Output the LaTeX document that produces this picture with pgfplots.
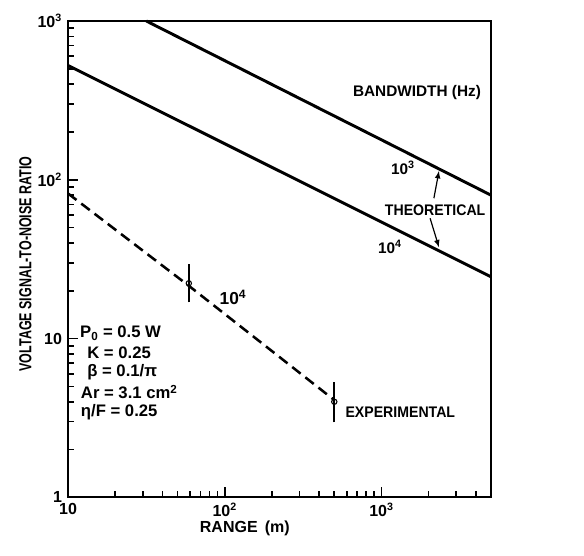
\documentclass[border=0pt]{standalone}
\usepackage{fontspec}
\setmainfont{Liberation Sans}
\usepackage{pgfplots}
\pgfplotsset{compat=1.18}
\begin{document}
\begin{tikzpicture}
\begin{axis}[
  scale only axis,
  width=317pt, height=357pt,
  xmode=log, ymode=log,
  xmin=10, xmax=5000, ymin=1, ymax=1000,
  xtick={10,100,1000}, xticklabels={10,10\textsuperscript{2},10\textsuperscript{3}},
  ytick={1,10,100,1000}, yticklabels={1,10,10\textsuperscript{2},10\textsuperscript{3}},
  minor xtick={}, minor ytick={},
  xtick pos=bottom, ytick pos=left,
  major tick length=0pt, minor tick length=0pt,
  axis line style={line width=1.4pt},
  ticklabel style={font=\bfseries\fontsize{12}{14}\selectfont},
  xticklabel style={yshift=-1pt},
  yticklabel style={xshift=-1pt},
  xlabel={RANGE\,  (m)},
  ylabel={\scalebox{0.72}[1]{\bfseries\fontsize{13}{14}\selectfont VOLTAGE SIGNAL-TO-NOISE RATIO}},
  x label style={font=\bfseries\fontsize{12}{14}\selectfont, at={(axis description cs:0.418,-0.065)}, anchor=center},
  y label style={at={(axis description cs:-0.075,0.49)}, anchor=south},
  clip=false,
]
% tick marks (inside), x axis
\addplot[black, line width=1.3pt, unbounded coords=jump, forget plot] table[row sep=\\] {
x y\\
100 1\\ 100 1.17\\ 100 nan\\
1000 1\\ 1000 1.17\\ 1000 nan\\
20 1\\ 20 1.095\\ 20 nan\\
30 1\\ 30 1.095\\ 30 nan\\
40 1\\ 40 1.095\\ 40 nan\\
50 1\\ 50 1.095\\ 50 nan\\
60 1\\ 60 1.095\\ 60 nan\\
70 1\\ 70 1.095\\ 70 nan\\
80 1\\ 80 1.095\\ 80 nan\\
90 1\\ 90 1.095\\ 90 nan\\
200 1\\ 200 1.095\\ 200 nan\\
300 1\\ 300 1.095\\ 300 nan\\
400 1\\ 400 1.095\\ 400 nan\\
500 1\\ 500 1.095\\ 500 nan\\
600 1\\ 600 1.095\\ 600 nan\\
700 1\\ 700 1.095\\ 700 nan\\
800 1\\ 800 1.095\\ 800 nan\\
900 1\\ 900 1.095\\ 900 nan\\
2000 1\\ 2000 1.095\\ 2000 nan\\
3000 1\\ 3000 1.095\\ 3000 nan\\
4000 1\\ 4000 1.095\\
};
% tick marks (inside), y axis
\addplot[black, line width=1.3pt, unbounded coords=jump, forget plot] table[row sep=\\] {
x y\\
10 10\\ 11.6 10\\ nan 10\\
10 100\\ 11.6 100\\ nan 100\\
10 2\\ 10.95 2\\ nan 2\\
10 3\\ 10.95 3\\ nan 3\\
10 4\\ 10.95 4\\ nan 4\\
10 5\\ 10.95 5\\ nan 5\\
10 6\\ 10.95 6\\ nan 6\\
10 7\\ 10.95 7\\ nan 7\\
10 8\\ 10.95 8\\ nan 8\\
10 9\\ 10.95 9\\ nan 9\\
10 20\\ 10.95 20\\ nan 20\\
10 30\\ 10.95 30\\ nan 30\\
10 40\\ 10.95 40\\ nan 40\\
10 50\\ 10.95 50\\ nan 50\\
10 60\\ 10.95 60\\ nan 60\\
10 70\\ 10.95 70\\ nan 70\\
10 80\\ 10.95 80\\ nan 80\\
10 90\\ 10.95 90\\ nan 90\\
10 200\\ 10.95 200\\ nan 200\\
10 300\\ 10.95 300\\ nan 300\\
10 400\\ 10.95 400\\ nan 400\\
10 500\\ 10.95 500\\ nan 500\\
10 600\\ 10.95 600\\ nan 600\\
10 700\\ 10.95 700\\ nan 700\\
10 800\\ 10.95 800\\ nan 800\\
10 900\\ 10.95 900\\
};
% theoretical lines
\addplot[black, line width=2.2pt] coordinates {(31.6,1000) (5000,80)};
\addplot[black, line width=2.2pt] coordinates {(10,525) (5000,24.5)};
% experimental
\addplot[black, line width=1.9pt, dash pattern=on 8pt off 4.5pt] coordinates {(10,82) (59,21.5) (500,4.1)};
\addplot[black, line width=1.2pt] coordinates {(59,16.9) (59,29.4)};
\addplot[black, line width=1.2pt] coordinates {(500,2.97) (500,5.3)};
\addplot[black, only marks, mark=o, mark size=2pt, thick, mark options={fill=white}] coordinates {(59,22.3) (500,4.0)};
% annotations
\begin{scope}[every node/.style={font=\bfseries\fontsize{11.5}{13}\selectfont}]
\node at (rel axis cs:0.825,0.849) {BANDWIDTH (Hz)};
\node at (rel axis cs:0.792,0.691) {10\textsuperscript{3}};
\node at (rel axis cs:0.868,0.603) {\scalebox{0.92}[1]{THEORETICAL}};
\node at (rel axis cs:0.761,0.525) {10\textsuperscript{4}};
\node[font=\bfseries\fontsize{13}{14}\selectfont] at (rel axis cs:0.390,0.420) {10\textsuperscript{4}};
\node[anchor=west] at (rel axis cs:0.645,0.179) {\scalebox{0.92}[1]{EXPERIMENTAL}};
\end{scope}
\draw[-latex, line width=0.9pt] (rel axis cs:0.865,0.628) -- (rel axis cs:0.877,0.685);
\draw[-latex, line width=0.9pt] (rel axis cs:0.856,0.586) -- (rel axis cs:0.877,0.525);
\begin{scope}[every node/.style={font=\bfseries\fontsize{12.5}{14}\selectfont, anchor=west, inner sep=0pt}]
\node at (rel axis cs:0.028,0.345) {P\textsubscript{0} = 0.5 W};
\node at (rel axis cs:0.045,0.303) {K = 0.25};
\node at (rel axis cs:0.045,0.262) {β = 0.1/π};
\node at (rel axis cs:0.030,0.221) {Ar = 3.1 cm\textsuperscript{2}};
\node at (rel axis cs:0.030,0.179) {η/F = 0.25};
\end{scope}
\path (rel axis cs:-0.1608,-0.1218) rectangle (rel axis cs:1.2199,1.0441);
\end{axis}
\end{tikzpicture}
\end{document}
